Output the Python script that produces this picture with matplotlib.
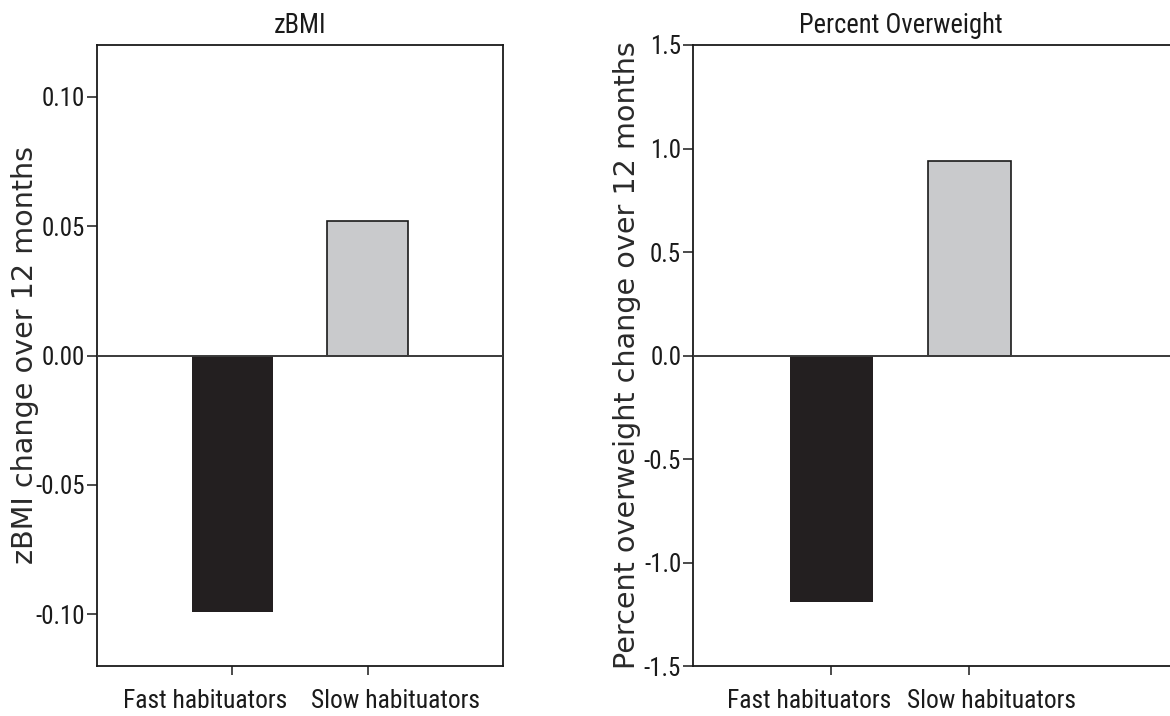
import os
import matplotlib
matplotlib.use("Agg")
import matplotlib.pyplot as plt
from matplotlib import font_manager
from matplotlib.font_manager import FontProperties
from matplotlib.textpath import TextPath
from matplotlib.transforms import ScaledTranslation

categories = ["Fast habituators", "Slow habituators"]
zbmi_values = [-0.099, 0.052]
overweight_values = [-1.19, 0.94]
zbmi_ticks = [-0.10, -0.05, 0.00, 0.05, 0.10]
zbmi_ticklabels = ["-0.10", "-0.05", "0.00", "0.05", "0.10"]
ow_ticks = [-1.5, -1.0, -0.5, 0.0, 0.5, 1.0, 1.5]
ow_ticklabels = ["-1.5", "-1.0", "-0.5", "0.0", "0.5", "1.0", "1.5"]
titles = ["zBMI", "Percent Overweight"]
ylabels = ["zBMI change over 12 months", "Percent overweight change over 12 months"]
bar_colors = ["#231f20", "#c9cacc"]

# ---- fonts -------------------------------------------------------------
files = [f.fname for f in font_manager.fontManager.ttflist]
def find_file(patterns):
    for p in patterns:
        for fn in files:
            if p.lower() in os.path.basename(fn).lower():
                return fn
    return None

narrow_file = find_file(["LiberationSansNarrow-Regular", "RobotoCondensed-Regular",
                         "NotoSans-Condensed.", "OpenSans_Condensed-Regular",
                         "OpenSansCondensed-", "DejaVuSansCondensed.",
                         "LiberationSans-Regular"])
narrow_fp = FontProperties(fname=narrow_file) if narrow_file else FontProperties(family="DejaVu Sans")
label_fp = FontProperties(family="DejaVu Sans")

def size_for(text, fp, target_px):
    ext = TextPath((0, 0), text, size=100, prop=fp).get_extents()
    return 72.0 * target_px / ext.width

grow = 1.07
xtick_size = grow * 0.5 * (size_for("Fast habituators", narrow_fp, 152) + size_for("Slow habituators", narrow_fp, 155))
ytick_size = grow * size_for("0.10", narrow_fp, 38)
title_size = grow * size_for("Percent Overweight", narrow_fp, 188)
ylabel_size = 0.5 * (size_for(ylabels[0], label_fp, 417) + size_for(ylabels[1], label_fp, 618))

def fp_sized(base, size):
    p = base.copy()
    p.set_size(size)
    return p

# ---- figure ------------------------------------------------------------
W, H = 1170, 716
fig = plt.figure(figsize=(W / 100, H / 100), dpi=100)

def make_ax(x0, x1, y0, y1):
    return fig.add_axes([x0 / W, 1 - y1 / H, (x1 - x0) / W, (y1 - y0) / H])

panels = [
    dict(box=(97, 503, 45, 666), values=zbmi_values, ticks=zbmi_ticks, tl=zbmi_ticklabels,
         ylim=(-0.12, 0.12), xlim=(-1, 2), title_x=300, label_x=25, offs=(55, -57), right=True),
    dict(box=(693, 1178, 45, 666), values=overweight_values, ticks=ow_ticks, tl=ow_ticklabels,
         ylim=(-1.5, 1.5), xlim=(-1, 2.51), title_x=901, label_x=627, offs=(60, -62), right=False),
]

ink = "#1a1a1a"
for i, p in enumerate(panels):
    x0, x1, y0, y1 = p["box"]
    ax = make_ax(x0, x1, y0, y1)
    xs = list(range(len(categories)))
    ax.bar(xs, p["values"], width=0.6, color=bar_colors,
           edgecolor=[bar_colors[0], "#1a1a1a"], linewidth=[0, 1.2], zorder=2)
    ax.axhline(0, color="#3a3a3a", linewidth=1.4, zorder=3)
    ax.set_xlim(*p["xlim"])
    ax.set_ylim(*p["ylim"])
    ax.set_xticks(xs)
    ax.set_xticklabels([])
    ax.set_yticks(p["ticks"])
    ax.set_yticklabels(p["tl"], fontproperties=fp_sized(narrow_fp, ytick_size), color=ink)
    ax.tick_params(axis="y", direction="out", length=7.5, width=1.1, color=ink, pad=1)
    ax.tick_params(axis="x", direction="out", length=6.5, width=1.1, color=ink)
    for s in ax.spines.values():
        s.set_linewidth(1.3)
        s.set_color(ink)
    if not p["right"]:
        ax.spines["right"].set_visible(False)

    # category labels (pushed apart as in the original)
    base = ax.get_xaxis_transform()
    for k, (cat, off) in enumerate(zip(categories, p["offs"])):
        tr = base + ScaledTranslation(off / 100, -(708 - 666) / 100, fig.dpi_scale_trans)
        ax.text(xs[k], 0, cat, transform=tr, ha="right" if k == 0 else "left",
                va="baseline", fontproperties=fp_sized(narrow_fp, xtick_size), color=ink,
                clip_on=False)

    # title
    fig.text((p["title_x"]) / W, 1 - 33 / H, titles[i], ha="center", va="baseline",
             fontproperties=fp_sized(narrow_fp, title_size), color=ink)
    # y label
    fig.text(p["label_x"] / W, 1 - 355 / H, ylabels[i], ha="center", va="center",
             rotation=90, fontproperties=fp_sized(label_fp, ylabel_size), color="#2a2a2a")

fig.savefig("out.png", dpi=100, facecolor="white")
